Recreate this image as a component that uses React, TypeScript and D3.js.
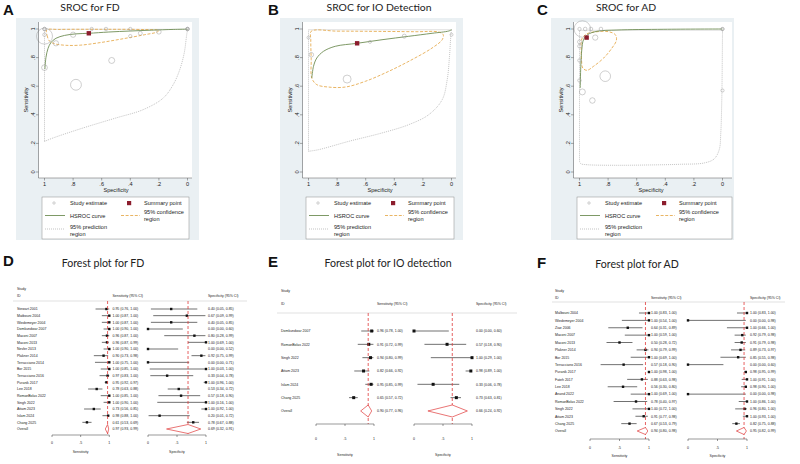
import React from 'react';
import * as d3 from 'd3';

type Pt = [number, number];

// ---------- FD: per-study estimates (forest D, SROC A) ----------
const fdStudies = ['Stewart 2001', 'Matbouni 2004', 'Wiedemeyer 2004', 'Domkundwar 2007', 'Maconi 2007', 'Maconi 2013', 'Nevler 2013', 'Plakner 2014', 'Terracciano 2014', 'Bor 2015', 'Terracciano 2016', 'Puranik 2017', 'Lee 2018', 'RomanBolas 2022', 'Singh 2022', 'Attam 2023', 'Islam 2024', 'Chang 2025'];
const fdSens = [0.95, 1.0, 1.0, 1.0, 0.96, 0.96, 1.0, 0.9, 1.0, 1.0, 0.97, 0.95, 0.78, 1.0, 1.0, 0.73, 0.98, 0.61];
const fdSensLo = [0.76, 0.87, 0.87, 0.9, 0.87, 0.87, 0.9, 0.73, 0.75, 0.85, 0.83, 0.92, 0.63, 0.85, 0.9, 0.56, 0.88, 0.53];
const fdSensHi = [1.0, 1.0, 1.0, 1.0, 1.0, 0.99, 1.0, 0.98, 1.0, 1.0, 1.0, 0.97, 0.88, 1.0, 1.0, 0.85, 1.0, 0.69];
const fdSpec = [0.4, 0.67, 0.4, 0.0, 0.8, 1.0, 0.0, 0.92, 0.0, 1.0, 0.33, 1.0, 0.53, 0.57, 1.0, 1.0, 0.2, 0.78];
const fdSpecLo = [0.05, 0.09, 0.05, 0.0, 0.28, 0.69, 0.0, 0.75, 0.0, 0.03, 0.04, 0.96, 0.34, 0.18, 0.16, 0.92, 0.01, 0.67];
const fdSpecHi = [0.85, 0.99, 0.85, 0.6, 0.99, 1.0, 0.52, 0.99, 0.71, 1.0, 0.78, 1.0, 0.72, 0.9, 1.0, 1.0, 0.72, 0.88];
const fdN = [22, 22, 22, 24, 55, 24, 22, 55, 20, 22, 30, 500, 70, 24, 26, 65, 40, 230];
const fdOverallSens = [0.97, 0.93, 0.99];
const fdOverallSpec = [0.69, 0.32, 0.91];
// SROC curves for FD, as (specificity, sensitivity)
const fdHsroc: Pt[] = [[0.997, 0.72], [0.99, 0.8], [0.975, 0.865], [0.955, 0.905], [0.92, 0.935], [0.86, 0.955], [0.78, 0.966], [0.69, 0.97], [0.55, 0.979], [0.4, 0.986], [0.25, 0.992], [0.1, 0.997], [0.0, 0.999]];
const fdConf: Pt[] = [[0.985, 0.993], [0.982, 0.955], [0.965, 0.915], [0.93, 0.897], [0.85, 0.886], [0.75, 0.887], [0.61, 0.905], [0.45, 0.932], [0.3, 0.96], [0.215, 0.978], [0.2, 0.99], [0.3, 0.996], [0.6, 0.998], [0.9, 0.997]];
const fdPred: Pt[] = [[1.0, 0.214], [0.94, 0.238], [0.73, 0.308], [0.5, 0.378], [0.31, 0.436], [0.17, 0.517], [0.1, 0.611], [0.054, 0.716], [0.023, 0.832], [0.007, 0.949], [0.0, 0.998]];

// ---------- IO detection (forest E, SROC B) ----------
const ioStudies = ['Domkundwar 2007', 'RomanBolas 2022', 'Singh 2022', 'Attam 2023', 'Islam 2024', 'Chang 2025'];
const ioSens = [0.96, 0.91, 0.94, 0.82, 0.95, 0.65];
const ioSensLo = [0.78, 0.72, 0.8, 0.66, 0.85, 0.57];
const ioSensHi = [1.0, 0.99, 0.99, 0.92, 0.99, 0.72];
const ioSpec = [0.0, 0.57, 1.0, 0.98, 0.33, 0.73];
const ioSpecLo = [0.0, 0.18, 0.29, 0.89, 0.06, 0.63];
const ioSpecHi = [0.6, 0.9, 1.0, 1.0, 0.78, 0.81];
const ioN = [18, 18, 18, 40, 32, 125];
const ioOverallSens = [0.9, 0.77, 0.96];
const ioOverallSpec = [0.66, 0.24, 0.92];
const ioHsroc: Pt[] = [[0.977, 0.657], [0.965, 0.739], [0.942, 0.797], [0.895, 0.844], [0.813, 0.879], [0.66, 0.9], [0.486, 0.925], [0.299, 0.949], [0.136, 0.97], [0.019, 0.986], [0.0, 0.995]];
const ioConf: Pt[] = [[0.981, 0.984], [0.8, 0.985], [0.603, 0.984], [0.252, 0.981], [0.089, 0.979], [0.058, 0.96], [0.065, 0.925], [0.136, 0.867], [0.276, 0.786], [0.439, 0.704], [0.603, 0.634], [0.743, 0.594], [0.86, 0.594], [0.942, 0.611], [0.977, 0.657], [0.981, 0.786], [0.984, 0.925]];
const ioPred: Pt[] = [[1.0, 0.145], [0.93, 0.156], [0.72, 0.214], [0.486, 0.273], [0.299, 0.331], [0.159, 0.401], [0.065, 0.506], [0.03, 0.646], [0.014, 0.809], [0.005, 0.949], [0.0, 0.995]];

// ---------- AD (forest F, SROC C) ----------
const adStudies = ['Malbouni 2004', 'Wiedemeyer 2004', 'Ziae 2006', 'Maconi 2007', 'Maconi 2013', 'Plakner 2014', 'Bor 2015', 'Terracciano 2016', 'Puranik 2017', 'Fateh 2017', 'Lee 2018', 'Anand 2022', 'RomanBolas 2022', 'Singh 2022', 'Attam 2023', 'Chang 2025'];
const adSens = [1.0, 1.0, 0.64, 1.0, 0.5, 0.94, 1.0, 0.57, 1.0, 0.88, 0.56, 1.0, 0.78, 1.0, 0.91, 0.67];
const adSensLo = [0.83, 0.54, 0.31, 0.59, 0.28, 0.79, 0.69, 0.18, 0.98, 0.63, 0.3, 0.69, 0.4, 0.72, 0.77, 0.53];
const adSensHi = [1.0, 1.0, 0.89, 1.0, 0.72, 0.99, 1.0, 0.9, 1.0, 0.98, 0.8, 1.0, 0.97, 1.0, 0.98, 0.79];
const adSpec = [1.0, 0.0, 1.0, 0.92, 0.91, 0.89, 0.85, 0.0, 0.98, 1.0, 0.98, 0.0, 1.0, 0.96, 1.0, 0.82];
const adSpecLo = [0.83, 0.0, 0.66, 0.79, 0.79, 0.73, 0.55, 0.0, 0.95, 0.91, 0.9, 0.0, 0.86, 0.8, 0.93, 0.75];
const adSpecHi = [1.0, 0.98, 1.0, 0.98, 0.98, 0.97, 0.98, 0.6, 0.99, 1.0, 1.0, 0.98, 1.0, 1.0, 1.0, 0.88];
const adN = [22, 20, 24, 26, 60, 55, 26, 20, 530, 26, 70, 20, 24, 26, 30, 220];
const adOverallSens = [0.94, 0.8, 0.98];
const adOverallSpec = [0.95, 0.82, 0.99];
const adHsroc: Pt[] = [[0.995, 0.587], [0.991, 0.739], [0.984, 0.855], [0.972, 0.925], [0.944, 0.96], [0.878, 0.984], [0.738, 0.993], [0.41, 0.998], [0.0, 1.0]];
const adConf: Pt[] = [[0.984, 0.93], [0.948, 0.967], [0.878, 0.981], [0.796, 0.981], [0.749, 0.96], [0.742, 0.921], [0.773, 0.867], [0.831, 0.797], [0.902, 0.739], [0.948, 0.711], [0.977, 0.727], [0.986, 0.786], [0.988, 0.855]];
const adPred: Pt[] = [[1.0, 0.075], [0.991, 0.058], [0.948, 0.051], [0.761, 0.047], [0.527, 0.049], [0.293, 0.054], [0.129, 0.063], [0.059, 0.091], [0.023, 0.156], [0.012, 0.273], [0.005, 0.506], [0.002, 0.739], [0.0, 0.991]];

const sroTicks = [0, 0.2, 0.4, 0.6, 0.8, 1];
const forestTicks = [0, 0.5, 1];

const SANS = "'Liberation Sans', Arial, Helvetica, sans-serif";
const TITLE_FONT = "Lato, 'Open Sans', sans-serif";
const COL = {
  bg: '#eaf0f3',
  hsroc: '#6f8d55',
  conf: '#e3a23c',
  pred: '#9a9a9a',
  study: '#9e9e9e',
  summary: '#8c1d2d',
  red: '#e03a3a',
  ink: '#333',
  axis: '#555',
};

const rScale = d3.scaleSqrt().domain([0, 500]).range([0, 8]);
const f2 = d3.format('.2f');

function tickText(v: number) {
  if (v === 0) return '0';
  if (v === 1) return '1';
  return d3.format('.1f')(v).replace(/^0/, '');
}

type SrocProps = {
  left: number; plotRight: number; legendRight: number;
  letter: string; letterX: number; title: string; titleX: number;
  spec: number[]; sens: number[]; n: number[]; sumSpec: number; sumSens: number;
  hsroc: Pt[]; conf: Pt[]; pred: Pt[];
};

function Sroc(p: SrocProps) {
  const L = p.left;
  const x = d3.scaleLinear().domain([1, 0]).range([L + 28.5, L + 171.5]);
  const y = d3.scaleLinear().domain([0, 1]).range([172, 29]);
  const open = d3.line<Pt>().x(d => x(d[0])).y(d => y(d[1])).curve(d3.curveCatmullRom.alpha(0.5));
  const closed = d3.line<Pt>().x(d => x(d[0])).y(d => y(d[1])).curve(d3.curveCatmullRomClosed.alpha(0.5));
  const poly = d3.line<Pt>().x(d => x(d[0])).y(d => y(d[1]));
  const last = p.pred[p.pred.length - 1];
  const edge: Pt[] = [last, [p.pred[0][0], last[1]], p.pred[0]];
  const fs = 5.6;
  const pr = L + p.plotRight;
  const lg = { x: L + 26, y: 197, w: p.legendRight - 26, h: 42 };
  return (
    <g>
      <text x={p.letterX} y={15} fontFamily={SANS} fontWeight="bold" fontSize={15} fill="#111">{p.letter}</text>
      <text x={p.titleX} y={11} fontFamily={TITLE_FONT} fontSize={10.4} textAnchor="middle" fill="#222">{p.title}</text>
      <rect x={L} y={18} width={183} height={222} fill={COL.bg} />
      <rect x={L + 23} y={22} width={pr - L - 23} height={156} fill="#fff" />
      {/* prediction region */}
      <path d={open(p.pred) || ''} fill="none" stroke={COL.pred} strokeWidth={0.6} strokeDasharray="1,1" />
      <path d={poly(edge) || ''} fill="none" stroke={COL.pred} strokeWidth={0.6} strokeDasharray="1,1" />
      {/* confidence region */}
      <path d={closed(p.conf) || ''} fill="none" stroke={COL.conf} strokeWidth={0.8} strokeDasharray="3,1.6" />
      {/* HSROC curve */}
      <path d={open(p.hsroc) || ''} fill="none" stroke={COL.hsroc} strokeWidth={0.9} />
      {p.spec.map((s, i) => (
        <circle key={i} cx={x(s)} cy={y(p.sens[i])} r={rScale(p.n[i])} fill="none" stroke={COL.study} strokeWidth={0.5} />
      ))}
      <rect x={x(p.sumSpec) - 2.2} y={y(p.sumSens) - 2.2} width={4.4} height={4.4} fill={COL.summary} />
      {/* axes */}
      <line x1={L + 22.5} x2={L + 22.5} y1={22} y2={178} stroke={COL.axis} strokeWidth={0.5} />
      <line x1={L + 22.5} x2={pr} y1={178} y2={178} stroke={COL.axis} strokeWidth={0.5} />
      {sroTicks.map(t => (
        <g key={'y' + t}>
          <line x1={L + 20} x2={L + 22.5} y1={y(t)} y2={y(t)} stroke={COL.axis} strokeWidth={0.5} />
          <text transform={`translate(${L + 18.6},${y(t)}) rotate(-90)`} fontFamily={SANS} fontSize={fs} textAnchor="middle" fill="#222">{tickText(t)}</text>
        </g>
      ))}
      {sroTicks.map(t => (
        <g key={'x' + t}>
          <line x1={x(t)} x2={x(t)} y1={178} y2={180.5} stroke={COL.axis} strokeWidth={0.5} />
          <text x={x(t)} y={186.3} fontFamily={SANS} fontSize={fs} textAnchor="middle" fill="#222">{tickText(t)}</text>
        </g>
      ))}
      <text transform={`translate(${L + 11.5},100) rotate(-90)`} fontFamily={SANS} fontSize={fs} textAnchor="middle" fill="#222">Sensitivity</text>
      <text x={x(0.5)} y={192} fontFamily={SANS} fontSize={fs} textAnchor="middle" fill="#222">Specificity</text>
      {/* legend */}
      <rect x={lg.x} y={lg.y} width={lg.w} height={lg.h} fill="#fff" stroke="#8a8a8a" strokeWidth={0.5} />
      <circle cx={L + 38} cy={203} r={1.2} fill="none" stroke={COL.study} strokeWidth={0.5} />
      <text x={L + 54} y={205} fontFamily={SANS} fontSize={fs} fill="#222">Study estimate</text>
      <rect x={L + 111} y={201} width={4.2} height={4.2} fill={COL.summary} />
      <text x={L + 128} y={205} fontFamily={SANS} fontSize={fs} fill="#222">Summary point</text>
      <line x1={L + 29} x2={L + 49} y1={215.5} y2={215.5} stroke={COL.hsroc} strokeWidth={0.9} />
      <text x={L + 54} y={217.5} fontFamily={SANS} fontSize={fs} fill="#222">HSROC curve</text>
      <line x1={L + 105} x2={L + 124} y1={215.5} y2={215.5} stroke={COL.conf} strokeWidth={0.8} strokeDasharray="3,1.6" />
      <text x={L + 128} y={214} fontFamily={SANS} fontSize={fs} fill="#222">95% confidence</text>
      <text x={L + 128} y={220.6} fontFamily={SANS} fontSize={fs} fill="#222">region</text>
      <line x1={L + 29} x2={L + 49} y1={229} y2={229} stroke={COL.pred} strokeWidth={0.6} strokeDasharray="1,1" />
      <text x={L + 54} y={229} fontFamily={SANS} fontSize={fs} fill="#222">95% prediction</text>
      <text x={L + 54} y={235.6} fontFamily={SANS} fontSize={fs} fill="#222">region</text>
    </g>
  );
}

type ForestLayout = {
  letterX: number; letterY: number; titleX: number; titleY: number;
  labelX: number; studyY: number; idY: number; ruleY: number; ruleX0: number; ruleX1: number;
  row0: number; step: number; sens0: number; sens1: number; spec0: number; spec1: number;
  sensTextX: number; specTextX: number; axisY: number; tickY: number; axisTitleY: number;
  box: number; diamondH: number;
};

const fdLayout: ForestLayout = {
  letterX: 3, letterY: 265.5, titleX: 103, titleY: 266.5,
  labelX: 17, studyY: 290.2, idY: 297.2, ruleY: 301, ruleX0: 13, ruleX1: 247,
  row0: 309, step: 6.667, sens0: 52, sens1: 109.3, spec0: 148, spec1: 206,
  sensTextX: 112.5, specTextX: 208, axisY: 435, tickY: 444, axisTitleY: 452.5,
  box: 2.4, diamondH: 9,
};
const ioLayout: ForestLayout = {
  letterX: 268, letterY: 267, titleX: 388, titleY: 267,
  labelX: 281, studyY: 292, idY: 304.5, ruleY: 313, ruleX0: 277, ruleX1: 517,
  row0: 331, step: 13.33, sens0: 316, sens1: 374, spec0: 414, spec1: 472,
  sensTextX: 377, specTextX: 476, axisY: 424, tickY: 440.3, axisTitleY: 456.3,
  box: 3, diamondH: 12,
};
const adLayout: ForestLayout = {
  letterX: 537, letterY: 267.5, titleX: 637, titleY: 268,
  labelX: 555, studyY: 292.2, idY: 299, ruleY: 302, ruleX0: 552, ruleX1: 785,
  row0: 313, step: 7.375, sens0: 590, sens1: 649, spec0: 688, spec1: 747,
  sensTextX: 651, specTextX: 750, axisY: 439, tickY: 448.6, axisTitleY: 457,
  box: 2.4, diamondH: 7,
};

type ForestProps = {
  lay: ForestLayout; letter: string; title: string; studies: string[];
  sens: number[]; sensLo: number[]; sensHi: number[];
  spec: number[]; specLo: number[]; specHi: number[];
  oSens: number[]; oSpec: number[];
};

function Forest(p: ForestProps) {
  const lay = p.lay;
  const xs = d3.scaleLinear().domain([0, 1]).range([lay.sens0, lay.sens1]);
  const xp = d3.scaleLinear().domain([0, 1]).range([lay.spec0, lay.spec1]);
  const rowY = (i: number) => lay.row0 + i * lay.step;
  const fs = 3.5;
  const base = fs * 0.36;
  const oy = rowY(p.studies.length);
  const h = lay.diamondH / 2;
  const diamond = (sc: d3.ScaleLinear<number, number>, v: number[]) =>
    `M${sc(v[1])},${oy}L${sc(v[0])},${oy - h}L${sc(v[2])},${oy}L${sc(v[0])},${oy + h}Z`;
  const ci = (v: number, lo: number, hi: number) => `${f2(v)} (${f2(lo)}, ${f2(hi)})`;
  const axis = (sc: d3.ScaleLinear<number, number>, name: string) => (
    <g>
      <line x1={sc(0)} x2={sc(1)} y1={lay.axisY} y2={lay.axisY} stroke={COL.ink} strokeWidth={0.5} />
      {forestTicks.map(t => (
        <g key={t}>
          <line x1={sc(t)} x2={sc(t)} y1={lay.axisY} y2={lay.axisY + 2} stroke={COL.ink} strokeWidth={0.5} />
          <text x={sc(t)} y={lay.tickY} fontFamily={SANS} fontSize={fs} textAnchor="middle" fill="#222">{tickText(t)}</text>
        </g>
      ))}
      <text x={sc(0.5)} y={lay.axisTitleY} fontFamily={SANS} fontSize={fs} textAnchor="middle" fill="#222">{name}</text>
    </g>
  );
  return (
    <g>
      <text x={lay.letterX} y={lay.letterY} fontFamily={SANS} fontWeight="bold" fontSize={15} fill="#111">{p.letter}</text>
      <text x={lay.titleX} y={lay.titleY} fontFamily={TITLE_FONT} fontSize={10.6} textAnchor="middle" fill="#222">{p.title}</text>
      <text x={lay.labelX} y={lay.studyY} fontFamily={SANS} fontSize={fs} fill="#222">Study</text>
      <text x={lay.labelX} y={lay.idY} fontFamily={SANS} fontSize={fs} fill="#222">ID</text>
      <text x={lay.sensTextX} y={lay.idY} fontFamily={SANS} fontSize={fs} fill="#222">Sensitivity (95% CI)</text>
      <text x={lay.specTextX} y={lay.idY} fontFamily={SANS} fontSize={fs} fill="#222">Specificity (95% CI)</text>
      <line x1={lay.ruleX0} x2={lay.ruleX1} y1={lay.ruleY} y2={lay.ruleY} stroke="#ccc" strokeWidth={0.6} />
      {p.studies.map((s, i) => {
        const yy = rowY(i);
        const b = lay.box;
        return (
          <g key={s + i}>
            <text x={lay.labelX} y={yy + base} fontFamily={SANS} fontSize={fs} fill="#222">{s}</text>
            <line x1={xs(p.sensLo[i])} x2={xs(p.sensHi[i])} y1={yy} y2={yy} stroke={COL.ink} strokeWidth={0.7} />
            <rect x={xs(p.sens[i]) - b / 2} y={yy - b / 2} width={b} height={b} fill="#111" />
            <text x={lay.sensTextX} y={yy + base} fontFamily={SANS} fontSize={fs} fill="#222">{ci(p.sens[i], p.sensLo[i], p.sensHi[i])}</text>
            <line x1={xp(p.specLo[i])} x2={xp(p.specHi[i])} y1={yy} y2={yy} stroke={COL.ink} strokeWidth={0.7} />
            <rect x={xp(p.spec[i]) - b / 2} y={yy - b / 2} width={b} height={b} fill="#111" />
            <text x={lay.specTextX} y={yy + base} fontFamily={SANS} fontSize={fs} fill="#222">{ci(p.spec[i], p.specLo[i], p.specHi[i])}</text>
          </g>
        );
      })}
      <text x={lay.labelX} y={oy + base} fontFamily={SANS} fontSize={fs} fill="#222">Overall</text>
      <line x1={xs(p.oSens[0])} x2={xs(p.oSens[0])} y1={lay.ruleY} y2={lay.axisY} stroke={COL.red} strokeWidth={0.8} strokeDasharray="3,2" />
      <line x1={xp(p.oSpec[0])} x2={xp(p.oSpec[0])} y1={lay.ruleY} y2={lay.axisY} stroke={COL.red} strokeWidth={0.8} strokeDasharray="3,2" />
      <path d={diamond(xs, p.oSens)} fill="#fff" stroke={COL.red} strokeWidth={0.7} />
      <path d={diamond(xp, p.oSpec)} fill="#fff" stroke={COL.red} strokeWidth={0.7} />
      <text x={lay.sensTextX} y={oy + base} fontFamily={SANS} fontSize={fs} fill="#222">{ci(p.oSens[0], p.oSens[1], p.oSens[2])}</text>
      <text x={lay.specTextX} y={oy + base} fontFamily={SANS} fontSize={fs} fill="#222">{ci(p.oSpec[0], p.oSpec[1], p.oSpec[2])}</text>
      {axis(xs, 'Sensitivity')}
      {axis(xp, 'Specificity')}
    </g>
  );
}

export default function App() {
  return (
    <svg width={800} height={464} viewBox="0 0 800 464" style={{ position: 'absolute', left: 0, top: 0, background: '#fff' }}>
      <rect width={800} height={464} fill="#fff" />
      <Sroc left={16} plotRight={176} legendRight={173} letter="A" letterX={3} title="SROC for FD" titleX={90}
        spec={fdSpec} sens={fdSens} n={fdN} sumSpec={fdOverallSpec[0]} sumSens={fdOverallSens[0]}
        hsroc={fdHsroc} conf={fdConf} pred={fdPred} />
      <Sroc left={280} plotRight={176} legendRight={174} letter="B" letterX={268} title="SROC for IO Detection" titleX={379}
        spec={ioSpec} sens={ioSens} n={ioN} sumSpec={ioOverallSpec[0]} sumSens={ioOverallSens[0]}
        hsroc={ioHsroc} conf={ioConf} pred={ioPred} />
      <Sroc left={551} plotRight={181} legendRight={181} letter="C" letterX={537} title="SROC for AD" titleX={626}
        spec={adSpec} sens={adSens} n={adN} sumSpec={adOverallSpec[0]} sumSens={adOverallSens[0]}
        hsroc={adHsroc} conf={adConf} pred={adPred} />
      <Forest lay={fdLayout} letter="D" title="Forest plot for FD" studies={fdStudies}
        sens={fdSens} sensLo={fdSensLo} sensHi={fdSensHi} spec={fdSpec} specLo={fdSpecLo} specHi={fdSpecHi}
        oSens={fdOverallSens} oSpec={fdOverallSpec} />
      <Forest lay={ioLayout} letter="E" title="Forest plot for IO detection" studies={ioStudies}
        sens={ioSens} sensLo={ioSensLo} sensHi={ioSensHi} spec={ioSpec} specLo={ioSpecLo} specHi={ioSpecHi}
        oSens={ioOverallSens} oSpec={ioOverallSpec} />
      <Forest lay={adLayout} letter="F" title="Forest plot for AD" studies={adStudies}
        sens={adSens} sensLo={adSensLo} sensHi={adSensHi} spec={adSpec} specLo={adSpecLo} specHi={adSpecHi}
        oSens={adOverallSens} oSpec={adOverallSpec} />
    </svg>
  );
}
